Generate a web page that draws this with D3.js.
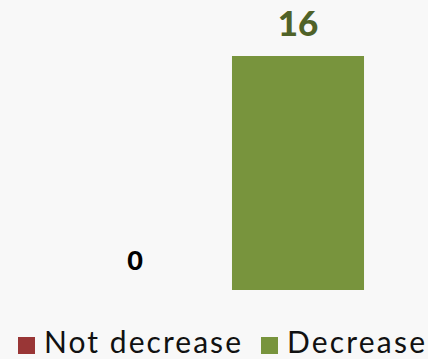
<!DOCTYPE html>
<html><head><meta charset="utf-8">
<script src="https://cdn.jsdelivr.net/npm/d3@7"></script>
<style>
html,body{margin:0;padding:0;background:#f8f8f8;}
svg{display:block;}
</style></head>
<body>
<svg id="chart" width="428" height="359"></svg>
<script>
const categories = ["Not decrease", "Decrease"];
const values = [0, 16];
const colors = ["#993636", "#78943d"];
const labelColors = ["#000000", "#4f6228"];
const labelSizes = [27, 35];
const legendWidths = [197, 138];

const svg = d3.select("#chart");
const W = 428, H = 359;
svg.append("rect").attr("width", W).attr("height", H).attr("fill", "#f8f8f8");

const x = d3.scaleBand().domain(categories).range([53.5, 379.5]).paddingInner(0.19).paddingOuter(0.095);
const y = d3.scaleLinear().domain([0, 16]).range([290, 56]);

const data = categories.map((c, i) => ({c, v: values[i], i}));

svg.selectAll("rect.bar").data(data).enter().append("rect")
  .attr("class", "bar")
  .attr("x", d => x(d.c))
  .attr("y", d => y(d.v))
  .attr("width", x.bandwidth())
  .attr("height", d => y(0) - y(d.v))
  .attr("fill", d => colors[d.i]);

svg.selectAll("text.lbl").data(data).enter().append("text")
  .attr("class", "lbl")
  .attr("x", d => x(d.c) + x.bandwidth() / 2)
  .attr("y", d => y(d.v) - 20.5)
  .attr("text-anchor", "middle")
  .attr("font-family", "Lato, sans-serif")
  .attr("font-weight", 900)
  .attr("font-size", d => labelSizes[d.i])
  .attr("fill", d => labelColors[d.i])
  .text(d => d.v);

const legend = svg.append("g");
const items = [{x: 18, tx: 44}, {x: 261, tx: 287}];
categories.forEach((c, i) => {
  legend.append("rect").attr("x", items[i].x).attr("y", 337).attr("width", 17).attr("height", 17).attr("fill", colors[i]);
  legend.append("text").attr("x", items[i].tx).attr("y", 353)
    .attr("font-family", "Lato, sans-serif").attr("font-size", 30).attr("fill", "#111")
    .attr("textLength", legendWidths[i]).attr("lengthAdjust", "spacing")
    .text(c);
});
</script>
</body></html>
